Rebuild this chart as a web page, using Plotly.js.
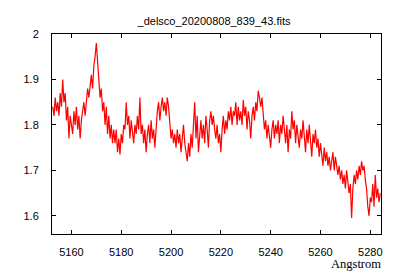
<!DOCTYPE html>
<html>
<head>
<meta charset="utf-8">
<script src="https://cdn.plot.ly/plotly-3.0.1.min.js"></script>
<style>html,body{margin:0;padding:0;background:#fff}#chart{width:400px;height:280px}</style>
</head>
<body>
<div id="chart"></div>
<script>
// Wavelength grid (Angstrom): start and step of the sampled spectrum
const lambdaStart = 5152.5;
const lambdaStep = 0.5;

// Flux values, one per grid point
const flux = [
  1.84,1.82,1.86,1.83,1.85,1.82,1.87,1.84,1.90,1.85,
  1.87,1.81,1.84,1.77,1.82,1.80,1.78,1.83,1.80,1.84,
  1.79,1.82,1.77,1.81,1.83,1.85,1.82,1.86,1.88,1.86,
  1.89,1.91,1.88,1.93,1.95,1.98,1.94,1.90,1.86,1.88,
  1.83,1.85,1.80,1.84,1.78,1.82,1.77,1.80,1.76,1.79,
  1.76,1.79,1.74,1.77,1.735,1.78,1.76,1.80,1.79,1.85,
  1.80,1.82,1.77,1.81,1.78,1.76,1.80,1.78,1.82,1.79,
  1.86,1.78,1.80,1.76,1.79,1.74,1.78,1.80,1.76,1.81,
  1.77,1.79,1.75,1.80,1.83,1.85,1.81,1.84,1.86,1.83,
  1.85,1.82,1.86,1.84,1.80,1.77,1.79,1.76,1.78,1.75,
  1.79,1.76,1.78,1.74,1.77,1.80,1.76,1.74,1.72,1.76,
  1.73,1.78,1.75,1.80,1.85,1.77,1.82,1.74,1.79,1.81,
  1.77,1.80,1.76,1.82,1.79,1.75,1.81,1.83,1.80,1.82,
  1.79,1.77,1.80,1.76,1.78,1.74,1.79,1.82,1.78,1.81,
  1.79,1.83,1.81,1.84,1.80,1.83,1.82,1.85,1.80,1.84,
  1.81,1.83,1.80,1.855,1.82,1.84,1.79,1.83,1.81,1.77,
  1.82,1.84,1.81,1.85,1.83,1.875,1.86,1.84,1.86,1.83,
  1.79,1.81,1.77,1.80,1.78,1.75,1.79,1.81,1.77,1.80,
  1.78,1.81,1.76,1.80,1.78,1.82,1.79,1.76,1.80,1.74,
  1.79,1.77,1.83,1.79,1.81,1.76,1.80,1.78,1.75,1.79,
  1.77,1.81,1.78,1.74,1.79,1.76,1.80,1.77,1.73,1.78,
  1.76,1.79,1.75,1.77,1.73,1.76,1.74,1.71,1.75,1.72,
  1.74,1.71,1.73,1.70,1.72,1.74,1.70,1.73,1.71,1.69,
  1.71,1.68,1.70,1.67,1.69,1.66,1.70,1.68,1.65,1.67,
  1.595,1.66,1.69,1.67,1.70,1.68,1.71,1.69,1.72,1.70,
  1.71,1.68,1.66,1.62,1.60,1.64,1.63,1.67,1.62,1.69,
  1.64,1.66,1.63,1.65
];

// Tick labels
const xTicks = [5160, 5180, 5200, 5220, 5240, 5260, 5280];
const xTickLabels = ["5160", "5180", "5200", "5220", "5240", "5260", "5280"];
const yTicks = [1.6, 1.7, 1.8, 1.9, 2.0];
const yTickLabels = ["1.6", "1.7", "1.8", "1.9", "2"];

const titleText = "_delsco_20200808_839_43.fits";
const xLabel = "Angstrom";

const wavelength = flux.map((_, i) => lambdaStart + i * lambdaStep);

const tickFont = {family: "Liberation Sans, Arial, sans-serif", size: 11, color: "#000"};

const data = [{
  x: wavelength,
  y: flux,
  type: "scatter",
  mode: "lines",
  line: {color: "#ff0000", width: 1.2, shape: "linear"},
  hoverinfo: "skip"
}];

const layout = {
  width: 400,
  height: 280,
  margin: {l: 52, r: 19, t: 34, b: 46, pad: 0},
  paper_bgcolor: "#fff",
  plot_bgcolor: "#fff",
  showlegend: false,
  title: {
    text: titleText,
    font: {family: "Liberation Sans, Arial, sans-serif", size: 11, color: "#000"},
    x: 0.535, xanchor: "center", y: 0.925, yanchor: "middle"
  },
  xaxis: {
    range: [5152.2, 5284.3],
    tickmode: "array", tickvals: xTicks, ticktext: xTickLabels,
    ticks: "inside", ticklen: 4, tickwidth: 1, tickcolor: "#000",
    showline: true, linecolor: "#000", linewidth: 1, mirror: "ticks",
    showgrid: false, zeroline: false,
    tickfont: tickFont, ticklabelstandoff: 8
  },
  yaxis: {
    range: [1.56, 2.0],
    tickmode: "array", tickvals: yTicks, ticktext: yTickLabels,
    ticks: "inside", ticklen: 4, tickwidth: 1, tickcolor: "#000",
    showline: true, linecolor: "#000", linewidth: 1, mirror: "ticks",
    showgrid: false, zeroline: false,
    tickfont: tickFont, ticklabelstandoff: 10
  },
  annotations: [{
    text: xLabel, xref: "paper", yref: "paper",
    x: 1.007, xanchor: "right", y: -0.148, yanchor: "middle",
    showarrow: false,
    font: {family: "Liberation Serif, Times New Roman, serif", size: 12.5, color: "#000"}
  }]
};

Plotly.newPlot("chart", data, layout, {staticPlot: true, displayModeBar: false});
</script>
</body>
</html>
